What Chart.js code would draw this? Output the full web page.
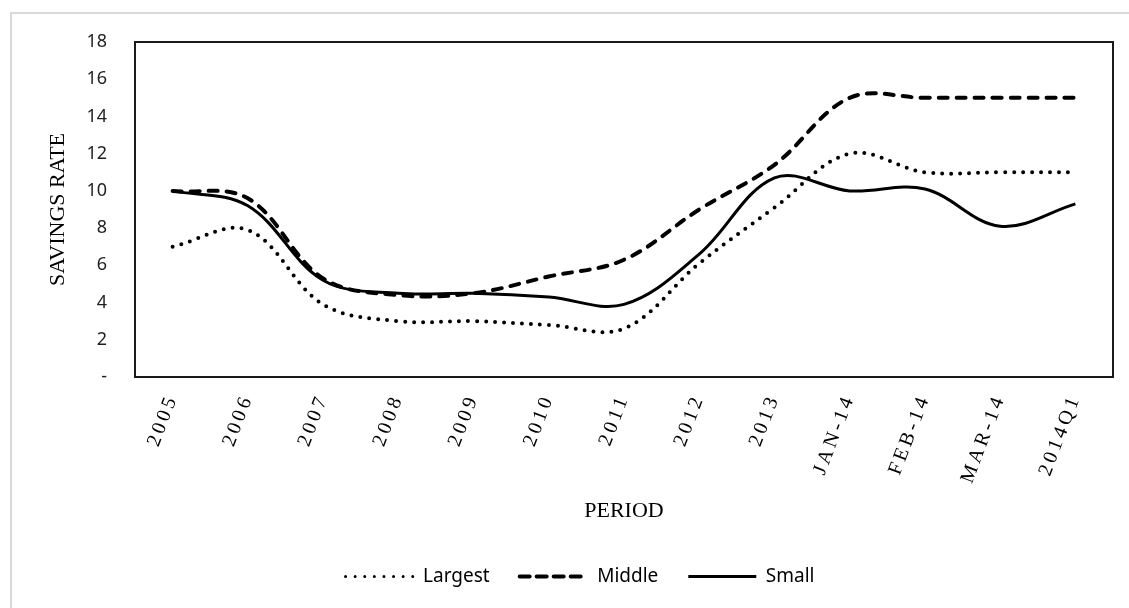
<!DOCTYPE html>
<html>
<head>
<meta charset="utf-8">
<script src="https://cdn.jsdelivr.net/npm/chart.js@4/dist/chart.umd.min.js"></script>
<style>
  html, body { margin: 0; padding: 0; background: #ffffff; }
  #wrap { position: relative; width: 1129px; height: 608px; }
  #frame {
    position: absolute; left: 10px; top: 12px; right: 0; bottom: 0;
    border-left: 2px solid #d9d9d9; border-top: 2px solid #d9d9d9;
  }
  #chart { position: absolute; left: 0; top: 0; }
</style>
</head>
<body>
<div id="wrap">
  <div id="frame"></div>
  <canvas id="chart" width="1129" height="608"></canvas>
</div>
<script>
// Periods on the horizontal axis
const periods = ['2005', '2006', '2007', '2008', '2009', '2010', '2011', '2012', '2013',
                 'JAN-14', 'FEB-14', 'MAR-14', '2014Q1'];

// Savings rate by bank group
const largest = [7.0, 7.9, 3.9, 3.0, 3.0, 2.8, 2.6, 6.1, 9.1, 12.0, 11.0, 11.0, 11.0];
const middle  = [10.0, 9.6, 5.3, 4.4, 4.5, 5.4, 6.3, 9.0, 11.4, 15.0, 15.0, 15.0, 15.0];
const small   = [10.0, 9.2, 5.2, 4.5, 4.5, 4.3, 3.9, 6.6, 10.7, 10.0, 10.1, 8.1, 9.3];

// Value axis ticks
const yTicks = [0, 2, 4, 6, 8, 10, 12, 14, 16, 18];

// Category axis that draws its labels with extra letter spacing
class SpacedCategoryScale extends Chart.CategoryScale {
  drawLabels(chartArea) {
    const ctx = this.ctx;
    ctx.save();
    ctx.letterSpacing = '3.5px';
    super.drawLabels(chartArea);
    ctx.restore();
  }
}
SpacedCategoryScale.id = 'spacedCategory';
SpacedCategoryScale.defaults = Chart.CategoryScale.defaults;
Chart.register(SpacedCategoryScale);

// Black frame around the plotting area
const plotFrame = {
  id: 'plotFrame',
  afterDraw(chart) {
    const { ctx, chartArea: a } = chart;
    ctx.save();
    ctx.strokeStyle = '#1a1a1a';
    ctx.lineWidth = 2;
    ctx.strokeRect(a.left, a.top, a.right - a.left, a.bottom - a.top);
    ctx.restore();
  }
};

// Legend samples take the line style of their series
function lineLegendLabels(chart) {
  const items = Chart.Chart.defaults.plugins.legend.labels.generateLabels(chart);
  return items.map(item => {
    const ds = chart.data.datasets[item.datasetIndex];
    return Object.assign(item, {
      lineDash: ds.legendDash || [],
      lineCap: ds.borderCapStyle || 'butt',
      lineWidth: ds.legendWidth || ds.borderWidth,
      strokeStyle: ds.borderColor,
      fillStyle: ds.borderColor,
      pointStyle: 'line'
    });
  });
}

new Chart(document.getElementById('chart'), {
  type: 'line',
  data: {
    labels: periods,
    datasets: [
      {
        label: 'Largest',
        data: largest,
        borderColor: '#000000',
        backgroundColor: '#000000',
        borderWidth: 4,
        borderDash: [0, 9],
        legendDash: [0, 9.6],
        legendWidth: 3,
        borderCapStyle: 'round',
        pointRadius: 0,
        tension: 0.36
      },
      {
        label: 'Middle',
        data: middle,
        borderColor: '#000000',
        backgroundColor: '#000000',
        borderWidth: 4,
        borderDash: [9, 9],
        legendDash: [10, 7],
        legendWidth: 4,
        borderCapStyle: 'round',
        pointRadius: 0,
        tension: 0.36
      },
      {
        label: 'Small',
        data: small,
        borderColor: '#000000',
        backgroundColor: '#000000',
        borderWidth: 3,
        legendWidth: 3,
        pointRadius: 0,
        tension: 0.36
      }
    ]
  },
  options: {
    responsive: false,
    animation: false,
    devicePixelRatio: 1,
    layout: { padding: { left: 47, right: 16, top: 42, bottom: 12 } },
    plugins: {
      tooltip: { enabled: false },
      legend: {
        position: 'bottom',
        labels: {
          usePointStyle: true,
          pointStyle: 'line',
          pointStyleWidth: 68,
          padding: 30,
          color: '#000000',
          font: { family: '"Noto Sans", sans-serif', size: 19 },
          generateLabels: lineLegendLabels
        }
      }
    },
    scales: {
      x: {
        type: 'spacedCategory',
        offset: true,
        grid: { display: false, drawTicks: false },
        border: { display: false },
        ticks: {
          minRotation: 69,
          maxRotation: 69,
          autoSkip: false,
          padding: 14,
          color: '#000000',
          font: { family: '"Liberation Serif", serif', size: 20 }
        },
        title: {
          display: true,
          text: 'PERIOD',
          color: '#000000',
          padding: { top: 0, bottom: 13 },
          font: { family: '"Liberation Serif", serif', size: 22 }
        },
        afterFit(scale) { scale.height = 160; }
      },
      y: {
        min: 0,
        max: 18,
        afterBuildTicks(scale) { scale.ticks = yTicks.map(v => ({ value: v })); },
        grid: { display: false, drawTicks: false },
        border: { display: false },
        ticks: {
          padding: 28,
          color: '#1f1f1f',
          font: { family: '"Noto Sans", sans-serif', size: 18 },
          callback: v => (v === 0 ? '-' : String(v))
        },
        title: {
          display: true,
          text: 'SAVINGS RATE',
          color: '#000000',
          padding: { top: 0, bottom: 0 },
          font: { family: '"Liberation Serif", serif', size: 22, lineHeight: 1 }
        },
        afterFit(scale) { scale.width = 88; }
      }
    }
  },
  plugins: [plotFrame]
});
</script>
</body>
</html>
